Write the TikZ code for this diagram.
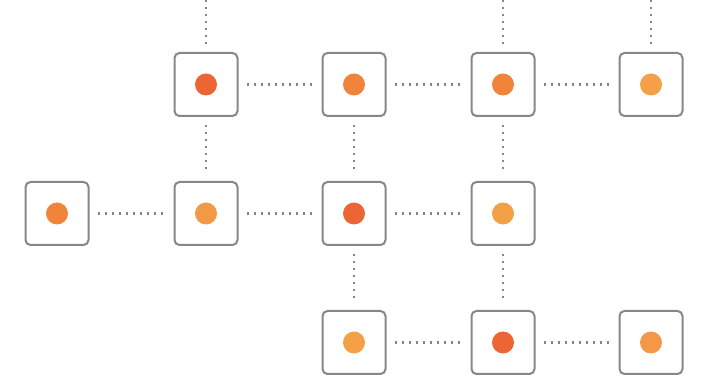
\documentclass[tikz,border=0pt]{standalone}
\begin{document}
\begin{tikzpicture}[x=1pt,y=-1pt,
  cell/.style={draw=boxgray, line width=2pt, rounded corners=5pt, minimum size=63pt, inner sep=0pt, fill=white},
  conn/.style={draw=dotgray, line width=2.2pt, dash pattern=on 2.2pt off 4.8pt, shorten >=8pt, shorten <=8pt},
  topconn/.style={draw=dotgray, line width=2.2pt, dash pattern=on 2.2pt off 4.8pt, shorten >=8pt},
  dot/.style={circle, fill=#1, minimum size=22pt, inner sep=0pt}]
\definecolor{boxgray}{HTML}{86878C}
\definecolor{dotgray}{HTML}{85858A}
\definecolor{dkor}{HTML}{EB6634}
\definecolor{mdor}{HTML}{F0843A}
\definecolor{ltor}{HTML}{F4A046}
\definecolor{lmor}{HTML}{F29846}
\useasboundingbox (0,0) rectangle (705,382);
% top free ends
\coordinate (t1) at (206,0);
\coordinate (t3) at (503,0);
\coordinate (t4) at (651,0);
% row 1
\node[cell] (a1) at (206,84.5) {}; \node[dot=dkor] at (a1) {};
\node[cell] (a2) at (354,84.5) {}; \node[dot=mdor] at (a2) {};
\node[cell] (a3) at (503,84.5) {}; \node[dot=mdor] at (a3) {};
\node[cell] (a4) at (651,84.5) {}; \node[dot=ltor] at (a4) {};
% row 2
\node[cell] (b0) at (57,213.5) {}; \node[dot=mdor] at (b0) {};
\node[cell] (b1) at (206,213.5) {}; \node[dot=lmor] at (b1) {};
\node[cell] (b2) at (354,213.5) {}; \node[dot=dkor] at (b2) {};
\node[cell] (b3) at (503,213.5) {}; \node[dot=ltor] at (b3) {};
% row 3
\node[cell] (c2) at (354,342.5) {}; \node[dot=ltor] at (c2) {};
\node[cell] (c3) at (503,342.5) {}; \node[dot=dkor] at (c3) {};
\node[cell] (c4) at (651,342.5) {}; \node[dot=lmor] at (c4) {};
% connectors
\draw[topconn] (t1) -- (a1);
\draw[topconn] (t3) -- (a3);
\draw[topconn] (t4) -- (a4);
\draw[conn] (a1) -- (a2);
\draw[conn] (a2) -- (a3);
\draw[conn] (a3) -- (a4);
\draw[conn] (b0) -- (b1);
\draw[conn] (b1) -- (b2);
\draw[conn] (b2) -- (b3);
\draw[conn] (c2) -- (c3);
\draw[conn] (c3) -- (c4);
\draw[conn] (a1) -- (b1);
\draw[conn] (a2) -- (b2);
\draw[conn] (a3) -- (b3);
\draw[conn] (b2) -- (c2);
\draw[conn] (b3) -- (c3);
\end{tikzpicture}
\end{document}
